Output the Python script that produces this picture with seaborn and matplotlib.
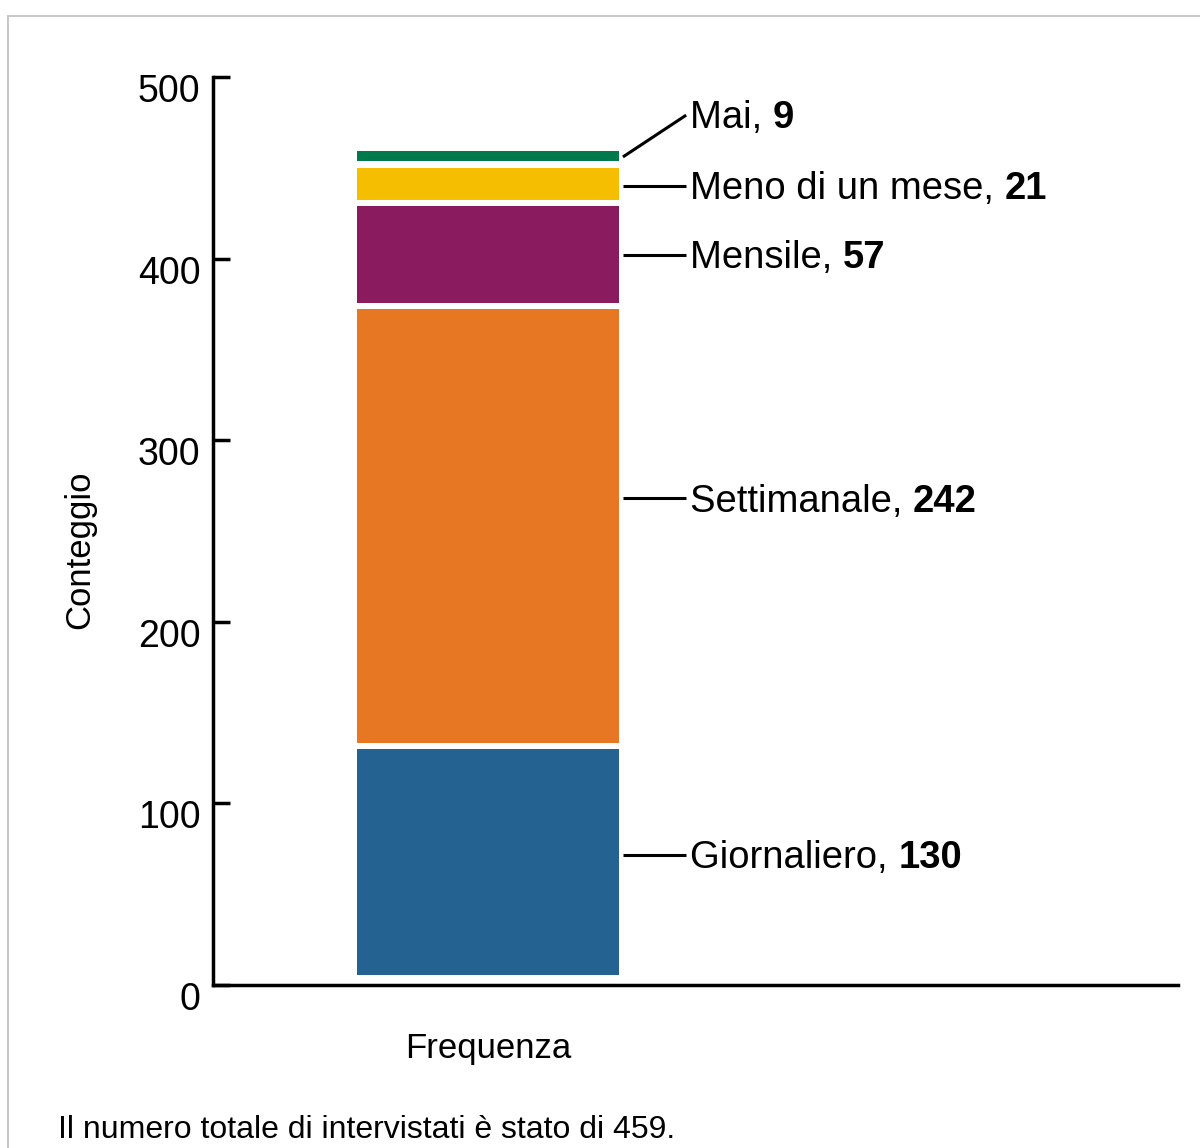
import matplotlib
matplotlib.use("Agg")
import matplotlib.pyplot as plt
import matplotlib.transforms as mtransforms
from matplotlib.patches import Rectangle
import seaborn as sns

# data
categories = ['Giornaliero', 'Settimanale', 'Mensile', 'Meno di un mese', 'Mai']
counts = [130, 242, 57, 21, 9]
colors = ['#246291', '#E77722', '#8A1B5E', '#F5BF00', '#007A4D']
total = sum(counts)

# where the labels sit (y in data units) and where their leader lines start
label_y = [71.5, 268, 402, 440, 479]
anchor_y = [71.5, 268, 402, 440, 456]

sns.set_theme(style='white')
plt.rcParams['font.family'] = ['Liberation Sans', 'DejaVu Sans']

fig = plt.figure(figsize=(12, 11.48), dpi=100)
ax = fig.add_axes([213/1200, 1 - 985/1148, 965/1200, 908/1148])

cum = 0
for i, (cat, val, col) in enumerate(zip(categories, counts, colors)):
    gap = 5.5 if i == 0 else 3.5
    sns.barplot(x=['Frequenza'], y=[val - gap], bottom=cum + gap, color=col,
                saturation=1, width=0.8, ax=ax, linewidth=0)
    cum += val

# labels with leader lines
for cat, val, ly, ay in zip(categories, counts, label_y, anchor_y):
    ax.plot([0.412, 0.605], [ay, ly], color='black', lw=2.2, solid_capstyle='butt')
    t = ax.text(0.617, ly - 1.8, cat + ', ', fontsize=27.5, va='center', ha='left', color='black')
    ax.annotate(str(val), xy=(1, 0), xycoords=t, fontsize=27.5, fontweight='bold',
                va='bottom', ha='left', color='black')

ax.set_ylim(0, 500)
ax.set_xlim(-0.84, 2.107)
ax.set_yticks([0, 100, 200, 300, 400, 500])
ax.tick_params(axis='y', direction='in', length=12, width=2.5, labelsize=27, pad=9,
               left=True, colors='black')
ax.tick_params(axis='x', length=0, labelsize=25, pad=34, colors='black')
for lab in ax.get_yticklabels():
    lab.set_transform(lab.get_transform() +
                      mtransforms.ScaledTranslation(0, -0.11, fig.dpi_scale_trans))

for side in ['top', 'right']:
    ax.spines[side].set_visible(False)
for side in ['left', 'bottom']:
    ax.spines[side].set_color('black')
    ax.spines[side].set_linewidth(2.5)

ax.set_xlabel('')
ax.set_ylabel('Conteggio', fontsize=25, color='black', va='center')
ax.yaxis.set_label_coords(-0.138, 0.479)

fig.text(58/1200, 1 - 1130/1148, 'Il numero totale di intervistati è stato di %d.' % total,
         fontsize=23, va='center', ha='left', color='black')

# light frame around the figure
fig.patches.append(Rectangle((8/1200, -0.1), 1.2, 1.1 - 16/1148, transform=fig.transFigure,
                             fill=False, edgecolor='#c8c8c8', lw=1.5))

fig.savefig('out.png', dpi=100, facecolor='white')
